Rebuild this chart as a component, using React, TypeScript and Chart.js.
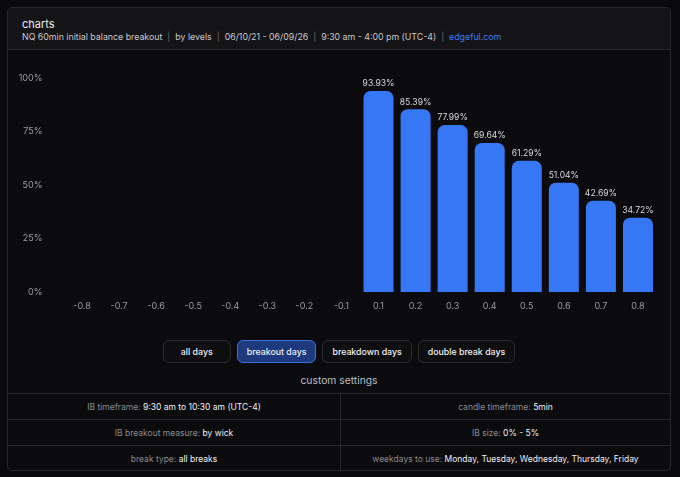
import React, { useEffect, useRef } from "react";
import { Chart, registerables } from "chart.js";

Chart.register(...registerables);

const categories = ["-0.8", "-0.7", "-0.6", "-0.5", "-0.4", "-0.3", "-0.2", "-0.1", "0.1", "0.2", "0.3", "0.4", "0.5", "0.6", "0.7", "0.8"];
const values: (number | null)[] = [null, null, null, null, null, null, null, null, 93.93, 85.39, 77.99, 69.64, 61.29, 51.04, 42.69, 34.72];
const yTicks = [0, 25, 50, 75, 100];
const tabs = ["all days", "breakout days", "breakdown days", "double break days"];
const activeTab = "breakout days";
const settingsRows: [string, string, string, string][] = [
  ["IB timeframe:", "9:30 am to 10:30 am (UTC-4)", "candle timeframe:", "5min"],
  ["IB breakout measure:", "by wick", "IB size:", "0% - 5%"],
  ["break type:", "all breaks", "weekdays to use:", "Monday, Tuesday, Wednesday, Thursday, Friday"],
];
const subtitleParts = ["NQ 60min initial balance breakout", "by levels", "06/10/21 - 06/09/26", "9:30 am - 4:00 pm (UTC-4)"];

const FONT = "Inter, 'Noto Sans', sans-serif";
const BLUE = "#3577f5";

const labelPlugin = {
  id: "valueLabels",
  afterDatasetsDraw(chart: any) {
    const ctx = chart.ctx;
    const meta = chart.getDatasetMeta(0);
    ctx.save();
    ctx.font = `400 8.6px ${FONT}`;
    ctx.fillStyle = "#d6d6d8";
    ctx.textAlign = "center";
    ctx.textBaseline = "bottom";
    meta.data.forEach((bar: any, i: number) => {
      const v = values[i];
      if (v == null) return;
      ctx.fillText(v.toFixed(2) + "%", bar.x, bar.y - 3);
    });
    ctx.restore();
  },
};

function BarChart() {
  const ref = useRef<HTMLCanvasElement>(null);
  useEffect(() => {
    if (!ref.current) return;
    const chart = new Chart(ref.current, {
      type: "bar",
      data: {
        labels: categories,
        datasets: [
          {
            data: values as any,
            backgroundColor: BLUE,
            borderRadius: 7,
            barPercentage: 0.9,
            categoryPercentage: 0.9,
          },
        ],
      },
      options: {
        animation: false,
        responsive: false,
        maintainAspectRatio: false,
        layout: { padding: { top: 27, right: 14.5, left: 0, bottom: 0 } },
        plugins: { legend: { display: false }, tooltip: { enabled: false } },
        scales: {
          x: {
            grid: { display: false, drawTicks: false },
            border: { display: false },
            ticks: { color: "#9a9aa0", font: { family: FONT, size: 9 }, padding: 9, maxRotation: 0, autoSkip: false },
            afterFit: (s: any) => { s.height = 29; },
          },
          y: {
            min: 0,
            max: 100,
            grid: { display: false, drawTicks: false },
            border: { display: false },
            afterBuildTicks: (s: any) => { s.ticks = yTicks.map((v) => ({ value: v })); },
            ticks: { color: "#9a9aa0", font: { family: FONT, size: 9 }, padding: 21, callback: (v: any) => v + "%" },
            afterFit: (s: any) => { s.width = 56.5; },
          },
        },
      },
      plugins: [labelPlugin],
    });
    return () => chart.destroy();
  }, []);
  return <canvas ref={ref} width={664} height={270} style={{ width: 664, height: 270, display: "block" }} />;
}

export default function App() {
  return (
    <div style={{ position: "fixed", inset: 0, background: "#0a0a0c", fontFamily: FONT }}>
      <div
        style={{
          position: "absolute",
          left: 7,
          top: 7,
          width: 662,
          height: 462,
          border: "1px solid #28282c",
          borderRadius: 5,
          background: "#0b0b0d",
          overflow: "hidden",
        }}
      >
        <div style={{ height: 42, background: "#141417", borderBottom: "1px solid #28282c", boxSizing: "border-box", paddingLeft: 14, paddingTop: 10 }}>
          <div style={{ color: "#ededf0", fontSize: 11, lineHeight: "13px" }}>charts</div>
          <div style={{ color: "#c9c9cd", fontSize: 8.8, lineHeight: "12px", marginTop: 0, whiteSpace: "nowrap" }}>
            {subtitleParts.map((p, i) => (
              <span key={i}>
                {p}
                <span style={{ color: "#6a6a70", margin: "0 5px" }}>|</span>
              </span>
            ))}
            <span style={{ color: "#3d7bf0" }}>edgeful.com</span>
          </div>
        </div>
        <div style={{ position: "absolute", left: -1, top: 43 }}>
          <BarChart />
        </div>
        <div style={{ position: "absolute", top: 332, left: 0, width: 662, display: "flex", justifyContent: "center", gap: 6 }}>
          {tabs.map((t) => {
            const active = t === activeTab;
            return (
              <div
                key={t}
                style={{
                  height: 23,
                  minWidth: 68,
                  boxSizing: "border-box",
                  padding: "0 9px",
                  display: "flex",
                  alignItems: "center",
                  justifyContent: "center",
                  fontSize: 8.8,
                  fontWeight: 500,
                  color: "#f0f0f2",
                  borderRadius: 6,
                  border: active ? "1px solid #3a6fe0" : "1px solid #2a2a2f",
                  background: active ? "#1d3a7e" : "#0e0e11",
                }}
              >
                {t}
              </div>
            );
          })}
        </div>
        <div style={{ position: "absolute", top: 366, left: 0, width: 662, textAlign: "center", color: "#bdbdc2", fontSize: 10.3 }}>custom settings</div>
        <div style={{ position: "absolute", top: 385, left: 0, width: 662, borderTop: "1px solid #28282c" }}>
          {settingsRows.map((r, i) => (
            <div key={i} style={{ display: "flex", height: 26, borderBottom: i < 2 ? "1px solid #28282c" : "none", boxSizing: "border-box", fontSize: 8.5 }}>
              <div style={{ flex: "0 0 332px", borderRight: "1px solid #28282c", display: "flex", alignItems: "center", justifyContent: "center" }}>
                <span style={{ whiteSpace: "pre" }}>
                  <span style={{ color: "#8a8a90" }}>{r[0] + " "}</span>
                  <span style={{ color: "#f0f0f2" }}>{r[1]}</span>
                </span>
              </div>
              <div style={{ flex: 1, display: "flex", alignItems: "center", justifyContent: "center" }}>
                <span style={{ whiteSpace: "pre" }}>
                  <span style={{ color: "#8a8a90" }}>{r[2] + " "}</span>
                  <span style={{ color: "#f0f0f2" }}>{r[3]}</span>
                </span>
              </div>
            </div>
          ))}
        </div>
      </div>
    </div>
  );
}
